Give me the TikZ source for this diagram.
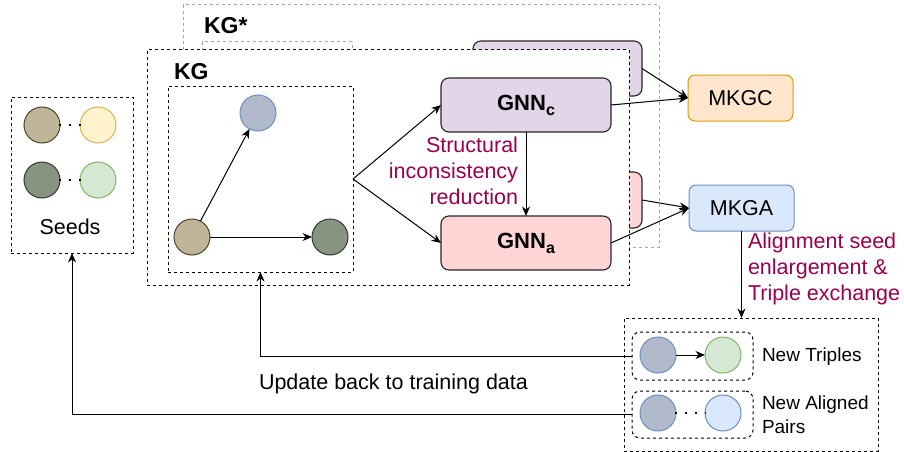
\documentclass[tikz,border=0pt]{standalone}
\usepackage{fontspec}
\setmainfont{Liberation Sans}
\usetikzlibrary{arrows.meta,calc}
\definecolor{tanF}{HTML}{BFB699}
\definecolor{tanS}{HTML}{4D4326}
\definecolor{yelF}{HTML}{FFF2CC}
\definecolor{yelS}{HTML}{D6B656}
\definecolor{dgF}{HTML}{889482}
\definecolor{dgS}{HTML}{2E3B2B}
\definecolor{lgF}{HTML}{D5E8D4}
\definecolor{lgS}{HTML}{82B366}
\definecolor{bgF}{HTML}{B0BACB}
\definecolor{blS}{HTML}{6C8EBF}
\definecolor{lbF}{HTML}{DAE8FC}
\definecolor{purF}{HTML}{E1D5E7}
\definecolor{pinkF}{HTML}{FFD5D5}
\definecolor{orF}{HTML}{FFE6CC}
\definecolor{orS}{HTML}{D79B00}
\definecolor{magT}{HTML}{99004D}
\definecolor{grayD}{HTML}{A6A6A6}
\definecolor{edgeC}{HTML}{262626}
\tikzset{
  x=1pt,y=-1pt,
  every node/.style={inner sep=0pt,outer sep=0pt},
  dbox/.style={draw=black,dash pattern=on 3pt off 3pt,line width=1pt},
  gbox/.style={draw=grayD,dash pattern=on 3pt off 3pt,line width=1pt},
  rbox/.style={draw=edgeC,line width=1.1pt,rounded corners=8pt},
  ent/.style={circle,minimum size=36pt,line width=1pt},
  arr/.style={draw=black,line width=1pt,-{Stealth[length=9.5pt,width=8pt]}},
  dotl/.style={draw=black,line width=2.2pt,dash pattern=on 2.2pt off 7.8pt,shorten <=-1pt,shorten >=-1.2pt},
  txt/.style={font=\fontsize{21.5}{26}\selectfont},
  small/.style={font=\fontsize{19}{24}\selectfont},
  bold/.style={font=\fontsize{23}{26}\selectfont\bfseries},
  gnn/.style={font=\fontsize{22}{24}\selectfont\bfseries},
  mag/.style={txt,text=magT}
}
\newcommand{\gsub}[1]{\raisebox{-5pt}{\fontsize{16}{16}\selectfont #1}}
\begin{document}
\begin{tikzpicture}
\useasboundingbox (0,0) rectangle (904,452);
% Seeds
\node[dbox,minimum width=122pt,minimum height=156pt] (seeds) at (72,175) {};
\node[ent,fill=tanF,draw=tanS] (s1) at (42,125) {};
\node[ent,fill=yelF,draw=yelS] (s2) at (98,125) {};
\node[ent,fill=dgF,draw=dgS] (s3) at (42,180) {};
\node[ent,fill=lgF,draw=lgS] (s4) at (98,180) {};
\draw[dotl] (s1.east) -- (s2.west);
\draw[dotl] (s3.east) -- (s4.west);
\node[txt] (seedT) at (70,227) {Seeds};
% KG* (background)
\node[gbox,fill=white,minimum width=476pt,minimum height=242pt] (kgs) at (421,126) {};
\node[bold,anchor=west] (kgsT) at (204,26) {KG*};
\node[gbox,minimum width=150pt,minimum height=216pt] (kgsIn) at (277,150) {};
\node[rbox,fill=purF,minimum width=169pt,minimum height=55pt] (backC) at (557.5,68.5) {};
\node[rbox,fill=pinkF,minimum width=169pt,minimum height=56pt] (backA) at (557.5,200) {};
% KG
\node[dbox,fill=white,minimum width=482pt,minimum height=235pt] (kg) at (388,167.5) {};
\node[bold,anchor=west] (kgT) at (174,72) {KG};
\node[dbox,minimum width=185pt,minimum height=186pt] (gb) at (260.5,179) {};
\node[ent,fill=bgF,draw=blS] (c1) at (258,113) {};
\node[ent,fill=tanF,draw=tanS] (c2) at (192,237) {};
\node[ent,fill=dgF,draw=dgS] (c3) at (330,237) {};
\draw[arr] (c2) -- (c1);
\draw[arr] (c2) -- (c3);
% GNNs
\node[rbox,fill=purF,minimum width=170pt,minimum height=54pt,gnn] (gnnc) at (526,105) {GNN\gsub{c}};
\node[rbox,fill=pinkF,minimum width=170pt,minimum height=54pt,gnn] (gnna) at (526,243) {GNN\gsub{a}};
\draw[arr] (gb.east) -- (gnnc.west);
\draw[arr] (gb.east) -- (gnna.west);
\draw[arr] (gnnc.south) -- (gnna.north);
\node[mag,align=right,anchor=east] (sir) at (518,171) {Structural\\inconsistency\\reduction};
% MKGC / MKGA
\node[draw=orS,fill=orF,line width=1pt,rounded corners=7pt,minimum width=105pt,minimum height=46pt,txt] (mkgc) at (740.5,98) {MKGC};
\node[draw=blS,fill=lbF,line width=1pt,rounded corners=7pt,minimum width=105pt,minimum height=46pt,txt] (mkga) at (741.5,208) {MKGA};
\draw[arr] (backC.east) -- (mkgc.west);
\draw[arr] (gnnc.east) -- (mkgc.west);
\draw[arr] (backA.east) -- (mkga.west);
\draw[arr] (gnna.east) -- (mkga.west);
% Bottom-right
\node[dbox,minimum width=254pt,minimum height=133pt] (out) at (751,384.5) {};
\draw[arr] (mkga.south) -- (mkga.south |- out.north);
\node[mag,align=left,anchor=west] (ase) at (748,269) {Alignment seed\\enlargement \&\\Triple exchange};
\node[dbox,rounded corners=8pt,minimum width=121pt,minimum height=48pt] (in1) at (692.5,356) {};
\node[dbox,rounded corners=8pt,minimum width=121pt,minimum height=47pt] (in2) at (692.5,414.5) {};
\node[ent,fill=bgF,draw=blS] (t1) at (658,355) {};
\node[ent,fill=lgF,draw=lgS] (t2) at (723,355) {};
\node[ent,fill=bgF,draw=blS] (p1) at (658,413) {};
\node[ent,fill=lbF,draw=blS] (p2) at (723,413) {};
\draw[arr] (t1) -- (t2);
\draw[dotl] (p1.east) -- (p2.west);
\node[small,anchor=west] (ntT) at (762,357) {New Triples};
\node[small,align=left,anchor=west] (napT) at (762,415) {New Aligned\\Pairs};
% feedback
\draw[arr] (in1.west) -| (gb.south);
\draw[arr] (in2.west) -| (seeds.south);
\node[txt,anchor=west] (upd) at (259,384) {Update back to training data};
\end{tikzpicture}
\end{document}
